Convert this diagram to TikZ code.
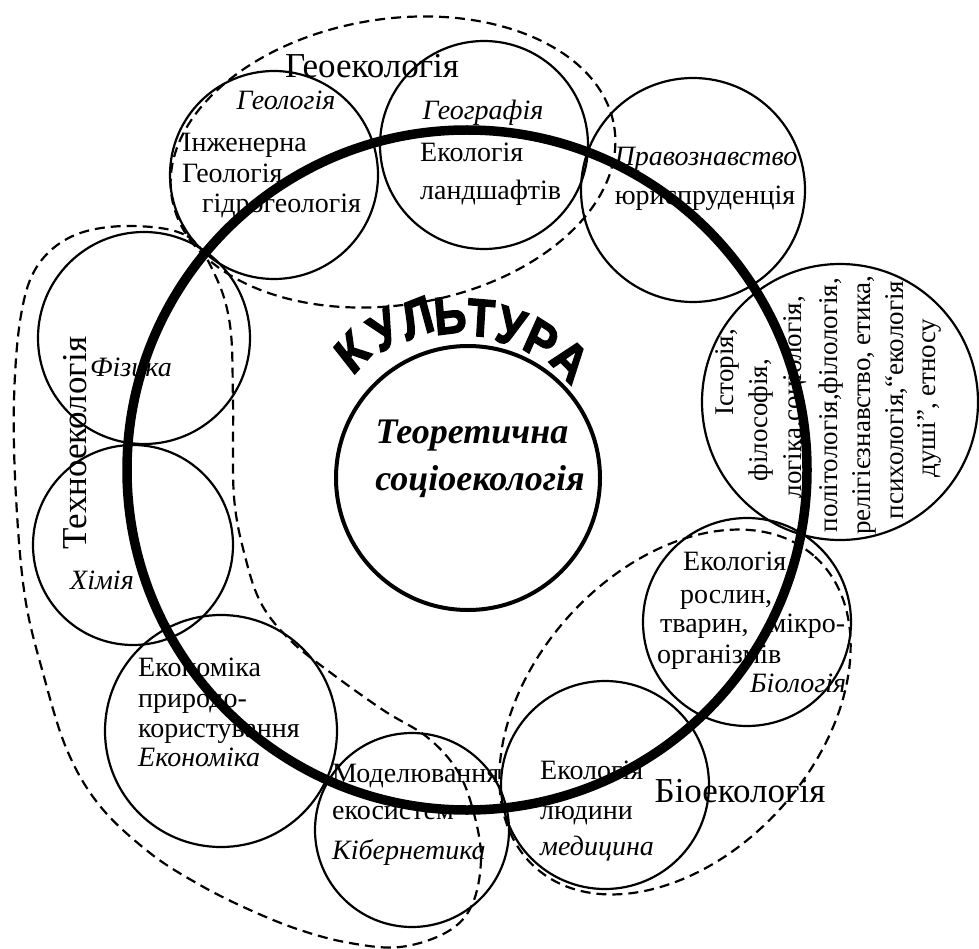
\documentclass[tikz,border=0pt]{standalone}
\usepackage{fontspec}
\setmainfont{Liberation Serif}
\newfontfamily\kultfont{Liberation Sans}[UprightFont={* Bold}, FakeBold=3]

\begin{document}
\begin{tikzpicture}[x=1pt,y=-1pt,
  subj/.style={circle, draw, line width=2.2pt, inner sep=0pt, outer sep=0pt},
  txt/.style={font=\fontsize{28}{32}\selectfont, inner sep=0pt},
  itx/.style={font=\fontsize{28}{32}\selectfont\itshape, inner sep=0pt},
  rtx/.style={font=\fontsize{27}{31}\selectfont, inner sep=0pt, rotate=90, anchor=base},
  bigtxt/.style={font=\fontsize{35}{40}\selectfont, inner sep=0pt},
  coretxt/.style={font=\fontsize{36}{40}\selectfont\bfseries\itshape, inner sep=0pt, anchor=base},
  kult/.style={font=\kultfont\fontsize{53}{56}\selectfont, inner sep=0pt, xscale=0.84},
  group/.style={draw, line width=2.2pt, dash pattern=on 10pt off 6pt}
]
\useasboundingbox (0,0) rectangle (979,949);

% ---- dashed groupings ----
\draw[group, rotate around={9:(393,162)}] (393,162) ellipse [x radius=224, y radius=143];
\draw[group, rotate around={48:(675,712)}] (675,712) ellipse [x radius=209, y radius=143];
\draw[group] plot[smooth cycle, tension=0.6] coordinates {
  (130,226) (187,236) (215,275) (230,325) (233,400) (234,497) (246,560) (262,605)
  (290,640) (327,670) (383,710) (427,737) (457,770) (473,810) (481,858) (472,905)
  (447,932) (400,947) (350,943) (300,930) (250,910) (200,885) (150,853) (100,806)
  (67,750) (43,673) (25,597) (16,497) (14,400) (21,315) (38,265) (75,235)};

% ---- discipline circles ----
\node[subj, minimum size=208pt] (geol) at (274,175) {};
\node[subj, minimum size=208pt] (geog) at (484,145) {};
\node[subj, minimum size=224pt] (law)  at (693,190) {};
\node[subj, minimum size=276pt] (hum)  at (840,402) {};
\node[subj, minimum size=208pt] (bio)  at (747,622) {};
\node[subj, minimum size=208pt] (man)  at (605,785) {};
\node[subj, minimum size=194pt] (cyb)  at (412,830) {};
\node[subj, minimum size=232pt] (eco)  at (221,731) {};
\node[subj, minimum size=200pt] (chem) at (133,545) {};
\node[subj, minimum size=212pt] (phys) at (144,338) {};

% ---- centre ----
\node[circle, draw, line width=4pt, minimum size=264pt, inner sep=0pt] (core) at (468,478) {};
\node[coretxt] (core1) at (472,443) {Теоретична};
\node[coretxt] (core2) at (480,490) {соціоекологія};

% ---- group titles ----
\node[bigtxt, anchor=base] (tgeo) at (372,78) {Геоекологія};
\node[bigtxt, anchor=base] (tbio) at (740,802) {Біоекологія};
\node[bigtxt, anchor=base, rotate=90] (ttech) at (86,443) {Техноекологія};

% ---- geology ----
\node[itx, anchor=base] (g1) at (286,110) {Геологія};
\node[txt, anchor=base west] (g2) at (182,152) {Інженерна};
\node[txt, anchor=base west] (g3) at (182,183) {Геологія};
\node[txt, anchor=base west] (g4) at (202,213) {гідрогеологія};

% ---- geography ----
\node[itx, anchor=base] (gg1) at (483,120) {Географія};
\node[txt, anchor=base west] (gg2) at (420,162) {Екологія};
\node[txt, anchor=base west] (gg3) at (420,200) {ландшафтів};

% ---- law ----
\node[itx, anchor=base] (l1) at (706,166) {Правознавство};
\node[txt, anchor=base] (l2) at (705,205) {юриспруденція};

% ---- humanities (vertical lines) ----
\node[rtx] (h1) at (733,372) {Історія,};
\node[rtx] (h2) at (767,420) {філософія,};
\node[rtx] (h3) at (801,397) {логіка,соціологія,};
\node[rtx] (h4) at (837,405) {політологія,філологія,};
\node[rtx] (h5) at (870,405) {релігієзнавство, етика,};
\node[rtx] (h6) at (903,400) {психологія,“екологія};
\node[rtx] (h7) at (935,398) {душі”, етносу};

% ---- biology ----
\node[txt, anchor=base west] (b1) at (683,570) {Екологія};
\node[txt, anchor=base west] (b2) at (680,603) {рослин,};
\node[txt, anchor=base west] (b3) at (660,632) {тварин,\hspace{20pt}мікро-};
\node[txt, anchor=base west] (b4) at (657,663) {організмів};
\node[itx, anchor=base west] (b5) at (750,692) {Біологія};

% ---- human ecology ----
\node[txt, anchor=base west] (m1) at (540,779) {Екологія};
\node[txt, anchor=base west] (m2) at (540,819) {людини};
\node[itx, anchor=base west] (m3) at (540,855) {медицина};

% ---- cybernetics ----
\node[txt, anchor=base west] (c1) at (332,782) {Моделювання};
\node[txt, anchor=base west] (c2) at (332,819) {екосистем};
\node[itx, anchor=base west] (c3) at (332,859) {Кібернетика};

% ---- economics ----
\node[txt, anchor=base west] (e1) at (138,676) {Економіка};
\node[txt, anchor=base west] (e2) at (138,707) {природо-};
\node[txt, anchor=base west] (e3) at (138,737) {користування};
\node[itx, anchor=base west] (e4) at (138,766) {Економіка};

% ---- chemistry, physics ----
\node[itx, anchor=base] (ch) at (102,589) {Хімія};
\node[itx, anchor=base] (ph) at (131,376) {Фізика};

% ---- arched title ----
\node[kult, rotate=43]  (k1) at (352,352) {К};
\node[kult, rotate=30]  (k2) at (384,330) {У};
\node[kult, rotate=18]  (k3) at (417,318) {Л};
\node[kult, rotate=6]   (k4) at (450,315) {Ь};
\node[kult, rotate=-4]  (k5) at (481,318) {Т};
\node[kult, rotate=-16] (k6) at (511,327) {У};
\node[kult, rotate=-28] (k7) at (541,340) {Р};
\node[kult, rotate=-41] (k8) at (570,360) {А};

% ---- culture ring on top ----
\node[circle, draw, line width=9.5pt, minimum size=680pt, inner sep=0pt] (ring) at (467,470) {};
\end{tikzpicture}
\end{document}
